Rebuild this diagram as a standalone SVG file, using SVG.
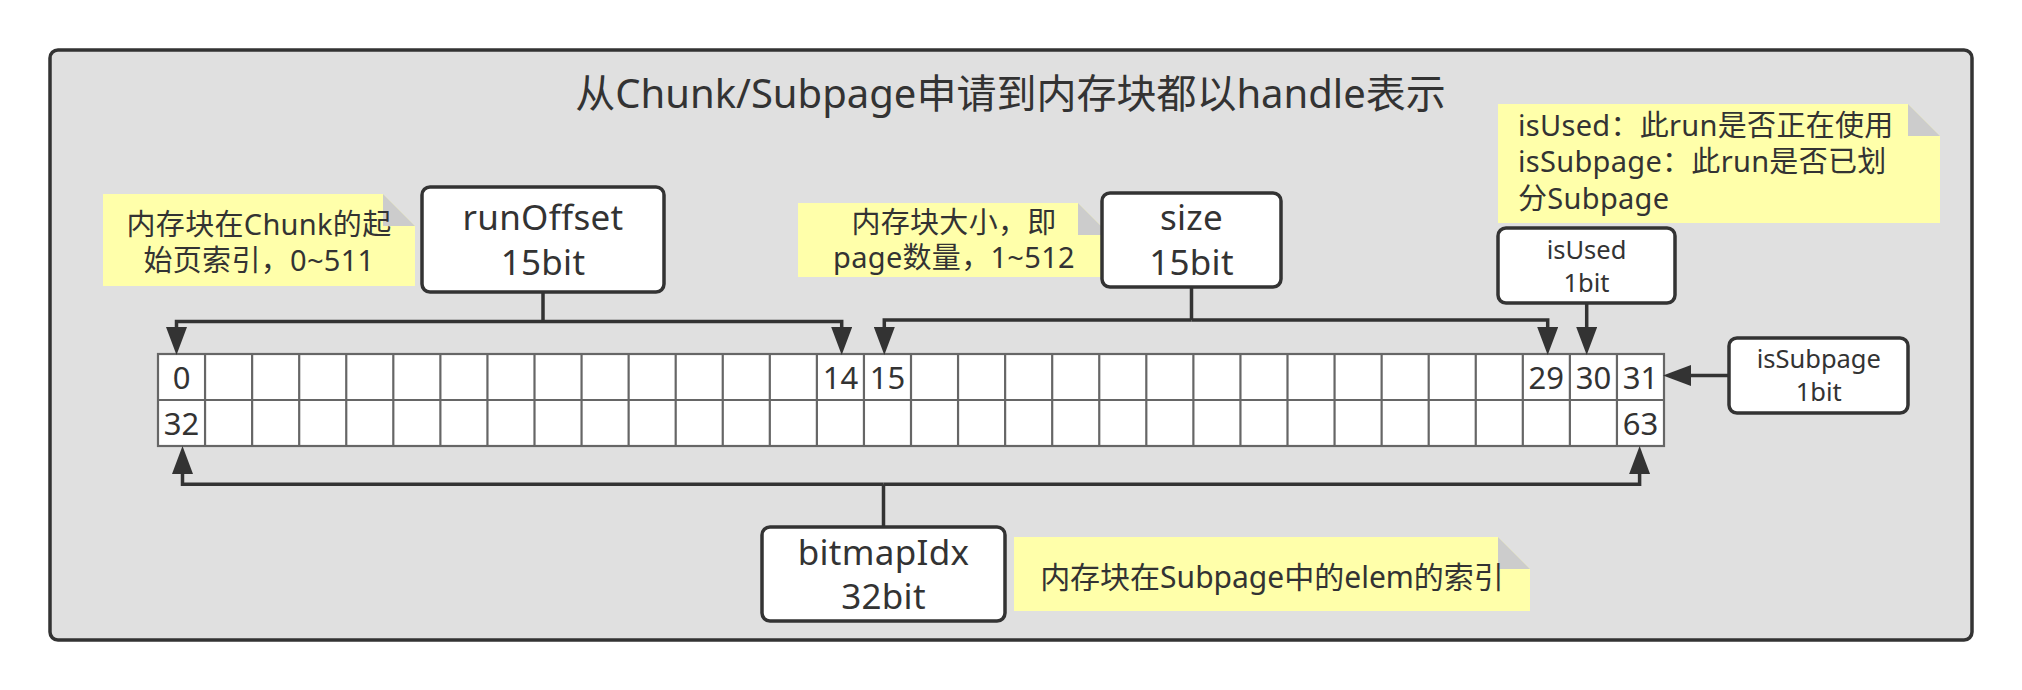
<svg xmlns="http://www.w3.org/2000/svg" width="2022" height="690" viewBox="0 0 2022 690">
<defs>
<style>
text{font-family:'Noto Sans','Noto Sans CJK SC',sans-serif;fill:#333;}
.frame{fill:#e0e0e0;stroke:#333;stroke-width:3.5;}
.box{fill:#fff;stroke:#333;stroke-width:3.5;}
.note{fill:#ffffaa;stroke:none;}
.fold{fill:#cccccc;stroke:none;}
.big{font-size:35px;text-anchor:middle;letter-spacing:0.3px;}
.small{font-size:25.5px;text-anchor:middle;}
.nt{font-size:29px;letter-spacing:0.3px;}
.ntc{font-size:29px;text-anchor:middle;letter-spacing:0.3px;}
.nt1{font-size:30px;text-anchor:middle;}
.cell{fill:#fff;stroke:#666;stroke-width:2.2;}
.gl{stroke:#666;stroke-width:2.2;fill:none;}
.num{font-size:31px;text-anchor:middle;}
.con{fill:none;stroke:#333;stroke-width:3.5;stroke-linejoin:miter;}
.arr{marker-end:url(#ah);}
</style>
<marker id="ah" viewBox="0 0 28 21" refX="18" refY="10.5" markerWidth="28" markerHeight="21" markerUnits="userSpaceOnUse" orient="auto">
<path d="M0,0 L28,10.5 L0,21 Z" fill="#333"/>
</marker>
</defs>

<g id="frame">
<rect class="frame" x="50" y="50" width="1922" height="590" rx="8"/>
<text x="1010.5" y="108" style="font-size:40px;text-anchor:middle">从Chunk/Subpage申请到内存块都以handle表示</text>
</g>

<g id="bitgrid">
<rect class="cell" x="158" y="354" width="1506" height="92"/>
<path class="gl" d="M158,400 H1664 M205.06,354 V446 M252.13,354 V446 M299.19,354 V446 M346.25,354 V446 M393.31,354 V446 M440.38,354 V446 M487.44,354 V446 M534.5,354 V446 M581.56,354 V446 M628.63,354 V446 M675.69,354 V446 M722.75,354 V446 M769.81,354 V446 M816.88,354 V446 M863.94,354 V446 M911,354 V446 M958.06,354 V446 M1005.13,354 V446 M1052.19,354 V446 M1099.25,354 V446 M1146.31,354 V446 M1193.38,354 V446 M1240.44,354 V446 M1287.5,354 V446 M1334.56,354 V446 M1381.63,354 V446 M1428.69,354 V446 M1475.75,354 V446 M1522.81,354 V446 M1569.88,354 V446 M1616.94,354 V446"/>
<text class="num" x="181.5" y="388.5">0</text>
<text class="num" x="840.4" y="388.5">14</text>
<text class="num" x="887.5" y="388.5">15</text>
<text class="num" x="1546.3" y="388.5">29</text>
<text class="num" x="1593.4" y="388.5">30</text>
<text class="num" x="1640.5" y="388.5">31</text>
<text class="num" x="181.5" y="434.5">32</text>
<text class="num" x="1640.5" y="434.5">63</text>
</g>

<g id="connectors">
<path class="con" d="M543,292 V321.5"/>
<path class="con arr" d="M543,321.5 H176.5 V345"/>
<path class="con arr" d="M543,321.5 H841.7 V345"/>
<path class="con" d="M1191.5,287 V320"/>
<path class="con arr" d="M1191.5,320 H884.3 V345"/>
<path class="con arr" d="M1191.5,320 H1547.7 V345"/>
<path class="con arr" d="M1586.7,303 V345"/>
<path class="con arr" d="M1729,375.5 H1673"/>
<path class="con" d="M883.5,527 V484.3"/>
<path class="con arr" d="M883.5,484.3 H182.5 V456"/>
<path class="con arr" d="M883.5,484.3 H1639.6 V456"/>
</g>

<g id="note-runoffset">
<polygon class="note" points="103,194 383,194 415,226 415,286 103,286"/>
<polygon class="fold" points="383,194 383,226 415,226"/>
<text class="ntc" x="259" y="235">内存块在Chunk的起</text>
<text class="ntc" x="259" y="270.5">始页索引，0~511</text>
</g>

<g id="runOffset">
<rect class="box" x="422" y="187" width="242" height="105" rx="8"/>
<text class="big" x="543" y="230">runOffset</text>
<text class="big" x="543" y="274.5">15bit</text>
</g>

<g id="note-size">
<polygon class="note" points="798,203 1078,203 1110,235 1110,277 798,277"/>
<polygon class="fold" points="1078,203 1078,235 1110,235"/>
<text class="ntc" x="954" y="232.5">内存块大小，即</text>
<text class="ntc" x="954" y="268">page数量，1~512</text>
</g>

<g id="size">
<rect class="box" x="1102" y="193" width="179" height="94" rx="8"/>
<text class="big" x="1191.5" y="230">size</text>
<text class="big" x="1191.5" y="274.5">15bit</text>
</g>

<g id="note-flags">
<polygon class="note" points="1498,104 1908,104 1940,136 1940,223 1498,223"/>
<polygon class="fold" points="1908,104 1908,136 1940,136"/>
<text class="nt" x="1518" y="135.5">isUsed：此run是否正在使用</text>
<text class="nt" x="1518" y="172">isSubpage：此run是否已划</text>
<text class="nt" x="1518" y="208.5">分Subpage</text>
</g>

<g id="isUsed">
<rect class="box" x="1498" y="228" width="177" height="75" rx="8"/>
<text class="small" x="1586.5" y="259">isUsed</text>
<text class="small" x="1586.5" y="292">1bit</text>
</g>

<g id="isSubpage">
<rect class="box" x="1729" y="338" width="179" height="75" rx="8"/>
<text class="small" x="1818.8" y="367.5">isSubpage</text>
<text class="small" x="1818.8" y="400.5">1bit</text>
</g>

<g id="bitmapIdx">
<rect class="box" x="762" y="527" width="243" height="94" rx="8"/>
<text class="big" x="883.5" y="564.5">bitmapIdx</text>
<text class="big" x="883.5" y="609">32bit</text>
</g>

<g id="note-bitmapidx">
<polygon class="note" points="1014,537 1498,537 1530,569 1530,611 1014,611"/>
<polygon class="fold" points="1498,537 1498,569 1530,569"/>
<text class="nt1" x="1272" y="588">内存块在Subpage中的elem的索引</text>
</g>
</svg>
